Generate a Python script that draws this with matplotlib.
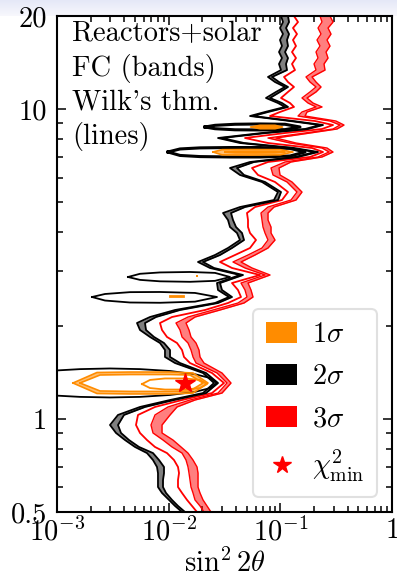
import numpy as np
import matplotlib
matplotlib.use('Agg')
import matplotlib.pyplot as plt
from matplotlib.patches import Patch, PathPatch
from matplotlib.lines import Line2D
from matplotlib.path import Path
from matplotlib.ticker import FixedLocator, NullFormatter

plt.rcParams['font.family'] = 'serif'
plt.rcParams['font.serif'] = ['cmr10']
plt.rcParams['mathtext.fontset'] = 'cm'
plt.rcParams['axes.unicode_minus'] = False

# Delta m^2 grid (eV^2) shared by the main boundaries
dm2 = [0.500, 0.523, 0.547, 0.576, 0.602, 0.634, 0.668, 0.699, 0.736, 0.775,
       0.811, 0.854, 0.900, 0.955, 1.029, 1.092, 1.150, 1.211, 1.305, 1.406,
       1.514, 1.584, 1.668, 1.757, 1.838, 1.936, 2.039, 2.132, 2.246, 2.366,
       2.474, 2.606, 2.745, 2.914, 3.070, 3.210, 3.381, 3.562, 3.780, 3.982,
       4.164, 4.386, 4.621, 4.831, 5.089, 5.401, 5.820, 6.131, 6.458, 6.753,
       7.009, 7.274, 7.493, 7.777, 8.071, 8.377, 8.630, 8.890, 9.159, 9.506,
       9.794, 10.17, 10.47, 10.87, 11.37, 11.80, 12.24, 12.71, 13.38, 14.00,
       14.63, 15.30, 16.00, 16.73, 17.49, 18.29, 19.12, 20.0]

# 2 sigma FC band (left / right edge)
s2_lo = [0.01317, 0.01140, 0.01007, 0.008715, 0.008025, 0.008025, 0.008025, 0.007861, 0.007238, 0.006396,
         0.004994, 0.004064, 0.003376, 0.002983, 0.003517, 0.005536, 0.01028, 0.02030, 0.02547, 0.02030,
         0.01140, 0.009271, 0.009271, 0.008363, 0.006804, 0.005536, 0.005205, 0.006804, 0.01140, 0.02600,
         0.03470, 0.02766, 0.02709, 0.04354, 0.02345, 0.01831, 0.02600, 0.03399, 0.04354, 0.04092,
         0.03542, 0.03399, 0.03066, 0.04354, 0.08775, 0.09530, 0.06852, 0.04354, 0.03542, 0.05350,
         0.1353, 0.2044, 0.1221, 0.04354, 0.02766, 0.06852, 0.1663, 0.2266, 0.1221, 0.05350,
         0.07290, 0.1101, 0.09530, 0.07441, 0.09146, 0.1101, 0.08959, 0.07754, 0.1014, 0.09729,
         0.1035, 0.09729, 0.1035, 0.09932, 0.1057, 0.09932, 0.1057, 0.1014]
s2_hi = [0.01401, 0.01212, 0.01071, 0.009464, 0.008896, 0.008896, 0.009082, 0.009082, 0.008192, 0.007238,
         0.005424, 0.004413, 0.003742, 0.003517, 0.003981, 0.006138, 0.01116, 0.02159, 0.02766, 0.02159,
         0.01263, 0.01028, 0.01028, 0.009082, 0.007390, 0.006266, 0.006138, 0.007701, 0.01263, 0.02766,
         0.03691, 0.03003, 0.02882, 0.04631, 0.02547, 0.02030, 0.02882, 0.03691, 0.04728, 0.04537,
         0.04009, 0.03768, 0.03616, 0.04826, 0.09530, 0.1014, 0.07290, 0.04728, 0.04092, 0.05810,
         0.1440, 0.2175, 0.1325, 0.04728, 0.03003, 0.07441, 0.1769, 0.2411, 0.1298, 0.05691,
         0.07754, 0.1171, 0.1035, 0.08082, 0.09932, 0.1171, 0.09729, 0.08421, 0.1147, 0.1124,
         0.1171, 0.1101, 0.1171, 0.1147, 0.1196, 0.1124, 0.1196, 0.1171]

# 3 sigma Wilks line
s3_wilks = [0.01794, 0.01618, 0.01460, 0.01317, 0.01212, 0.01212, 0.01238, 0.01212, 0.01116, 0.009661,
            0.007544, 0.006396, 0.005536, 0.005098, 0.005313, 0.007544, 0.01317, 0.02444, 0.03130, 0.02444,
            0.01553, 0.01372, 0.01317, 0.01188, 0.009661, 0.008715, 0.008363, 0.01071, 0.02116, 0.03399,
            0.04444, 0.04177, 0.03691, 0.06576, 0.03691, 0.02882, 0.03927, 0.05350, 0.06055, 0.05350,
            0.05134, 0.05134, 0.05029, 0.05932, 0.1035, 0.1171, 0.08959, 0.06309, 0.05575, 0.07754,
            0.1844, 0.2411, 0.1922, 0.07754, 0.04826, 0.1101, 0.2362, 0.2963, 0.2044, 0.08082,
            0.09932, 0.1325, 0.1221, 0.1014, 0.1171, 0.1325, 0.1171, 0.1079, 0.1353, 0.1272,
            0.1381, 0.1272, 0.1381, 0.1298, 0.1410, 0.1298, 0.1440, 0.1325]

# 3 sigma FC band (left / right edge)
s3_lo = [0.02072, 0.01908, 0.01721, 0.01652, 0.01585, 0.01553, 0.01521, 0.01490, 0.01430, 0.01317,
         0.01071, 0.008896, 0.007238, 0.006946, 0.007544, 0.009862, 0.01553, 0.02766, 0.03330, 0.02709,
         0.01757, 0.01652, 0.01585, 0.01490, 0.01317, 0.01263, 0.01163, 0.01490, 0.02495, 0.04177,
         0.05029, 0.04826, 0.04444, 0.07290, 0.04826, 0.03768, 0.05134, 0.06852, 0.07754, 0.07290,
         0.06994, 0.06852, 0.06712, 0.07754, 0.1246, 0.1410, 0.1147, 0.08596, 0.08250, 0.1101,
         0.2175, 0.2729, 0.2362, 0.1221, 0.07754, 0.1663, 0.2963, 0.3423, 0.2785, 0.1440,
         0.1563, 0.2087, 0.1769, 0.1563, 0.1844, 0.2087, 0.1844, 0.1698, 0.2087, 0.2003,
         0.2175, 0.2087, 0.2266, 0.2130, 0.2314, 0.2175, 0.2362, 0.2266]
s3_hi = [0.02394, 0.02204, 0.02030, 0.01908, 0.01831, 0.01831, 0.01831, 0.01794, 0.01652, 0.01490,
         0.01290, 0.01093, 0.008715, 0.008715, 0.01028, 0.01188, 0.01721, 0.03003, 0.03616, 0.03003,
         0.02072, 0.01908, 0.01869, 0.01757, 0.01585, 0.01521, 0.01430, 0.01721, 0.02882, 0.04728,
         0.05691, 0.05462, 0.05134, 0.08082, 0.05575, 0.04444, 0.05932, 0.07754, 0.08959, 0.08250,
         0.08250, 0.07754, 0.07754, 0.08775, 0.1381, 0.1563, 0.1272, 0.09932, 0.09729, 0.1246,
         0.2362, 0.2963, 0.2618, 0.1381, 0.09146, 0.1844, 0.3213, 0.3717, 0.3147, 0.1663,
         0.1733, 0.2362, 0.1962, 0.1733, 0.2087, 0.2314, 0.2087, 0.1922, 0.2512, 0.2461,
         0.2673, 0.2565, 0.2785, 0.2618, 0.2843, 0.2673, 0.2963, 0.2785]

# 2 sigma islands: sin^2 2theta samples with upper / lower Delta m^2
isl1_x = [0.02116, 0.02600, 0.03927, 0.06576, 0.1101, 0.1500]
isl1_top = [8.76, 8.87, 8.94, 8.96, 8.94, 8.76]
isl1_bot = [8.76, 8.65, 8.58, 8.57, 8.59, 8.76]
isl2_x = [0.009862, 0.01263, 0.01908, 0.03542, 0.06576, 0.1221, 0.1663]
isl2_top = [7.274, 7.44, 7.50, 7.52, 7.52, 7.47, 7.274]
isl2_bot = [7.274, 7.09, 7.03, 7.01, 7.01, 7.06, 7.274]
isl3_x = [0.004323, 0.005536, 0.008363, 0.01553, 0.02600, 0.03542]
isl3_top = [2.871, 2.94, 2.97, 2.98, 2.96, 2.871]
isl3_bot = [2.871, 2.81, 2.78, 2.77, 2.79, 2.871]
isl4_x = [0.002058, 0.002690, 0.004505, 0.008363, 0.01721, 0.02709]
isl4_top = [2.474, 2.53, 2.565, 2.568, 2.55, 2.474]
isl4_bot = [2.474, 2.41, 2.375, 2.37, 2.39, 2.474]
isl5_x = [3.28e-4, 4.67e-4, 1.0e-3, 1.61e-3, 2.98e-3, 5.54e-3, 0.01028, 0.01721, 0.02345, 0.02709]
isl5_top = [1.305, 1.383, 1.433, 1.447, 1.454, 1.447, 1.427, 1.393, 1.355, 1.305]
isl5_bot = [1.305, 1.231, 1.188, 1.177, 1.172, 1.177, 1.194, 1.222, 1.256, 1.305]

# 1 sigma FC ring at 1.3 eV^2 (outer and inner edge)
o1_out_x = [1.39e-3, 2.28e-3, 4.505e-3, 0.01028, 0.01652, 0.02250]
o1_out_top = [1.305, 1.411, 1.416, 1.416, 1.406, 1.305]
o1_out_bot = [1.305, 1.207, 1.203, 1.203, 1.211, 1.305]
o1_in_x = [1.607e-3, 2.427e-3, 4.505e-3, 0.01028, 0.01553, 0.02030]
o1_in_top = [1.305, 1.385, 1.390, 1.390, 1.385, 1.305]
o1_in_bot = [1.305, 1.230, 1.226, 1.226, 1.230, 1.305]
# 1 sigma Wilks contour at 1.3 eV^2
w1_x = [5.77e-3, 6.804e-3, 9.271e-3, 0.01401, 0.01908, 0.02204]
w1_top = [1.295, 1.335, 1.350, 1.350, 1.335, 1.295]
w1_bot = [1.295, 1.257, 1.243, 1.243, 1.257, 1.295]
# 1 sigma FC at 7.3 eV^2 (outer / inner)
o2_out_x = [0.02495, 0.03003, 0.05350, 0.09932, 0.1298]
o2_out_top = [7.274, 7.40, 7.41, 7.40, 7.274]
o2_out_bot = [7.274, 7.12, 7.11, 7.12, 7.274]
o2_in_x = [0.03195, 0.03927, 0.05932, 0.08959, 0.1101]
o2_in_top = [7.262, 7.30, 7.31, 7.30, 7.262]
o2_in_bot = [7.262, 7.23, 7.22, 7.23, 7.262]
# 1 sigma FC at 8.8 eV^2
o3_x = [0.0535, 0.06576, 0.08959, 0.1057]
o3_top = [8.76, 8.88, 8.88, 8.76]
o3_bot = [8.76, 8.64, 8.64, 8.76]
# tiny 1 sigma specks
o4_x, o4_y = [0.01794], [2.892]
o5_x, o5_y = [0.01028, 0.01344], [2.492, 2.492]

best_fit = (0.0140, 1.305)

orange = '#ff8c00'


def closed(xs, top, bot):
    return np.r_[xs, xs[::-1]], np.r_[top, bot[::-1]]


def ring(ax, xo, to, bo, xi, ti, bi):
    ox, oy = closed(xo, to, bo)
    ix, iy = closed(xi, bi, ti)
    path = Path.make_compound_path(Path(np.column_stack([ox, oy])),
                                   Path(np.column_stack([ix, iy])))
    ax.add_patch(PathPatch(path, fc=orange, ec='none', alpha=0.55, zorder=5))
    ax.plot(ox, oy, color=orange, lw=1.2, zorder=5)
    ax.plot(ix, iy, color=orange, lw=1.2, zorder=5)


fig = plt.figure(figsize=(3.97, 5.82), dpi=100)

# faint band at the very top of the screenshot
bg = fig.add_axes([0, 1 - 16 / 582, 1, 16 / 582])
grad = np.linspace(0, 1, 20)[:, None, None]
top_c = np.array([0.90, 0.91, 0.97])
bot_c = np.array([0.97, 0.97, 0.99])
bg.imshow(top_c * (1 - grad) + bot_c * grad, aspect='auto', extent=[0, 1, 0, 1])
bg.axis('off')

ax = fig.add_axes([57 / 397, 70 / 582, 335 / 397, 496 / 582])
ax.set_xscale('log')
ax.set_yscale('log')

# 3 sigma
ax.fill_betweenx(dm2, s3_lo, s3_hi, color='red', alpha=0.5, lw=0, zorder=2)
ax.plot(s3_lo, dm2, color='red', lw=1.0, zorder=2)
ax.plot(s3_hi, dm2, color='red', lw=1.0, zorder=2)
ax.plot(s3_wilks, dm2, color='red', lw=1.3, zorder=2)

# 2 sigma
ax.fill_betweenx(dm2, s2_lo, s2_hi, color='black', alpha=0.5, lw=0, zorder=3)
ax.plot(s2_lo, dm2, color='black', lw=1.3, zorder=3)
ax.plot(s2_hi, dm2, color='black', lw=1.3, zorder=3)
for xs, tp, bt, lw in [(isl1_x, isl1_top, isl1_bot, 2.2),
                       (isl2_x, isl2_top, isl2_bot, 2.2),
                       (isl3_x, isl3_top, isl3_bot, 1.3),
                       (isl4_x, isl4_top, isl4_bot, 1.3),
                       (isl5_x, isl5_top, isl5_bot, 1.3)]:
    cx, cy = closed(xs, tp, bt)
    ax.plot(cx, cy, color='black', lw=lw, zorder=4)

# 1 sigma
ring(ax, o1_out_x, o1_out_top, o1_out_bot, o1_in_x, o1_in_top, o1_in_bot)
ring(ax, o2_out_x, o2_out_top, o2_out_bot, o2_in_x, o2_in_top, o2_in_bot)
cx, cy = closed(o3_x, o3_top, o3_bot)
ax.fill(cx, cy, color=orange, lw=1.0, zorder=5)
cx, cy = closed(w1_x, w1_top, w1_bot)
ax.plot(cx, cy, color=orange, lw=1.3, zorder=5)
ax.plot(o4_x, o4_y, 's', color=orange, ms=2, mew=0, zorder=5)
ax.plot(o5_x, o5_y, color=orange, lw=2, zorder=5)

ax.plot(*best_fit, marker='*', color='red', ms=15, ls='none', zorder=6)

ax.set_xlim(1e-3, 1)
ax.set_ylim(0.5, 20)

ax.xaxis.set_major_locator(FixedLocator([1e-3, 1e-2, 1e-1, 1]))
ax.set_xticklabels([r'$10^{-3}$', r'$10^{-2}$', r'$10^{-1}$', r'$1$'])
ax.xaxis.set_minor_locator(FixedLocator([m * 10.0 ** e for e in (-3, -2, -1) for m in range(2, 10)]))
ax.xaxis.set_minor_formatter(NullFormatter())
ax.yaxis.set_major_locator(FixedLocator([0.5, 1, 10, 20]))
ax.set_yticklabels(['0.5', '1', '10', '20'])
ax.yaxis.set_minor_locator(FixedLocator([0.6, 0.7, 0.8, 0.9, 2, 3, 4, 5, 6, 7, 8, 9]))
ax.yaxis.set_minor_formatter(NullFormatter())

ax.tick_params(which='both', direction='in', top=True, right=True, width=1.1,
               labelsize=20.5)
ax.tick_params(which='major', length=6.5)
ax.tick_params(which='minor', length=4.3)
ax.tick_params(axis='x', pad=4)
ax.tick_params(axis='y', pad=7)
for sp in ax.spines.values():
    sp.set_linewidth(1.5)

ax.set_xlabel(r'$\sin^2 2\theta$', fontsize=20.5, labelpad=2)

ax.text(0.045, 0.99, "Reactors+solar\nFC (bands)\nWilk's thm.\n(lines)",
        transform=ax.transAxes, ha='left', va='top', fontsize=20.5, linespacing=1.3)

handles = [Patch(fc=orange), Patch(fc='black'), Patch(fc='red'),
           Line2D([], [], marker='*', color='red', ls='none', ms=13)]
labels = [r'$1\sigma$', r'$2\sigma$', r'$3\sigma$', r'$\chi^2_{\rm min}$']
leg = ax.legend(handles, labels, loc='lower right', bbox_to_anchor=(0.955, 0.03),
                borderaxespad=0, fontsize=20.5, handlelength=1.1, handleheight=0.75,
                labelspacing=0.55, handletextpad=0.5, borderpad=0.45, framealpha=0.8)
leg.get_frame().set_linewidth(1.5)
leg.get_frame().set_edgecolor('0.85')

fig.savefig('out.png', dpi=100)
